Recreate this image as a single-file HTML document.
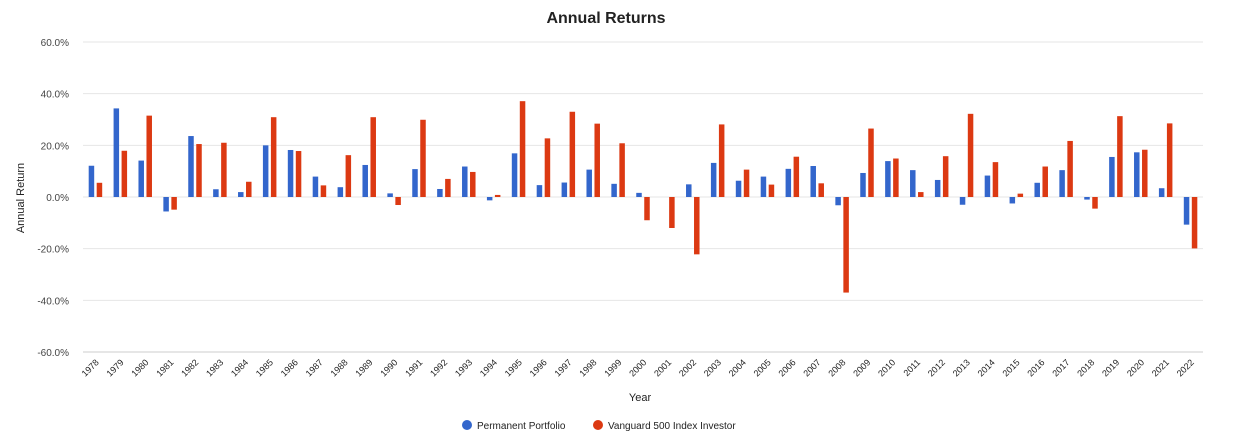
<!DOCTYPE html>
<html><head><meta charset="utf-8"><style>
html,body{margin:0;padding:0;background:#fff;}
svg{display:block;font-family:"Liberation Sans",Arial,sans-serif;}
</style></head><body>
<svg id="chart" width="1241" height="442">
<text x="606" y="23" text-anchor="middle" font-size="16" font-weight="bold" fill="#222">Annual Returns</text>
<g id="grid"></g><g id="bars"></g><g id="xlabels"></g>
<text transform="translate(24,198) rotate(-90)" text-anchor="middle" font-size="11" fill="#222">Annual Return</text>
<text x="640" y="401" text-anchor="middle" font-size="11" fill="#222">Year</text>
<g><circle cx="467" cy="425" r="5" fill="#3366cc"/><text x="477" y="429" font-size="10" fill="#222">Permanent Portfolio</text></g>
<g><circle cx="598" cy="425" r="5" fill="#dc3912"/><text x="608" y="429" font-size="10" fill="#222">Vanguard 500 Index Investor</text></g>
</svg>
<script>
const years=[1978,1979,1980,1981,1982,1983,1984,1985,1986,1987,1988,1989,1990,1991,1992,1993,1994,1995,1996,1997,1998,1999,2000,2001,2002,2003,2004,2005,2006,2007,2008,2009,2010,2011,2012,2013,2014,2015,2016,2017,2018,2019,2020,2021,2022];
const permanent=[12.1,34.3,14.1,-5.6,23.6,3.0,1.9,20.0,18.2,7.9,3.8,12.4,1.4,10.8,3.1,11.8,-1.3,16.9,4.6,5.6,10.6,5.1,1.6,0,4.9,13.2,6.3,7.9,10.9,12.0,-3.2,9.3,13.9,10.4,6.6,-3.0,8.3,-2.5,5.5,10.4,-1.0,15.5,17.3,3.4,-10.7];
const vanguard=[5.5,17.9,31.5,-4.9,20.5,21.0,5.9,30.9,17.8,4.5,16.2,30.9,-3.1,29.9,7.0,9.7,0.8,37.1,22.7,33.0,28.4,20.8,-9.0,-12.0,-22.2,28.1,10.6,4.8,15.6,5.3,-37.0,26.5,14.9,1.9,15.8,32.2,13.5,1.3,11.8,21.7,-4.5,31.3,18.3,28.5,-19.9];
const yTicks=[60,40,20,0,-20,-40,-60];
const NS="http://www.w3.org/2000/svg";
const X0=83,X1=1203,Y0=197,PX=2.583;
const yS=v=>Y0-v*PX;
const band=(X1-X0)/years.length;
const xS=i=>X0+band*(i+0.5);
function mk(t,a,p){const e=document.createElementNS(NS,t);for(const k in a)e.setAttribute(k,a[k]);p.appendChild(e);return e;}
const grid=document.getElementById('grid');
yTicks.forEach(t=>{
  const l=mk('line',{x1:X0,x2:X1,y1:yS(t),y2:yS(t),stroke:t===-60?'#ccc':'#e6e6e6','stroke-width':1},grid);
  
  
  const tx=mk('text',{x:69,y:yS(t)+4,'text-anchor':'end','font-size':10,fill:'#444'},grid);
  tx.textContent=t.toFixed(1)+'%';
  
  
});
const bars=document.getElementById('bars'),xl=document.getElementById('xlabels');
const bw=5.5;
years.forEach((y,i)=>{
  const c=xS(i);
  [[permanent[i],'#3366cc',c-4-bw/2,'bar-permanent'],[vanguard[i],'#dc3912',c+4-bw/2,'bar-vanguard']].forEach(([v,col,x,n])=>{
    const r=mk('rect',{x:x,y:Math.min(yS(v),Y0),width:bw,height:Math.abs(yS(v)-Y0),fill:col},bars);
    
    
  });
  const t=mk('text',{transform:`translate(${c+4},363) rotate(-45)`,'text-anchor':'end','font-size':9,fill:'#222'},xl);
  t.textContent=y;
  
  
});
</script>
</body></html>
